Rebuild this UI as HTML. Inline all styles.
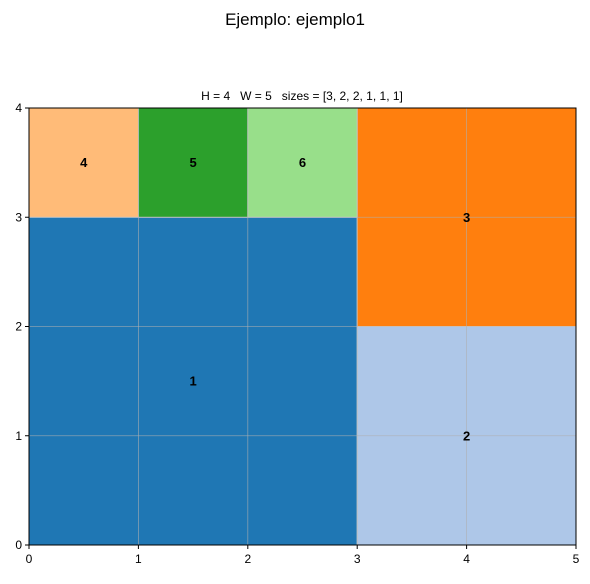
<!DOCTYPE html>
<html><head><meta charset="utf-8"><style>
body{margin:0;background:#fff;font-family:"Liberation Sans","DejaVu Sans",sans-serif;}
</style></head><body>
<svg width="590" height="579" xmlns="http://www.w3.org/2000/svg">
<text x="295" y="25" text-anchor="middle" font-size="17" fill="#000">Ejemplo: ejemplo1</text>
<text x="302" y="100" text-anchor="middle" font-size="12" fill="#000" style="white-space:pre">H = 4   W = 5   sizes = [3, 2, 2, 1, 1, 1]</text>
<g id="plot"></g>
</svg>
<script>
const rectIds=[1,2,3,4,5,6];
const rectX=[0,3,3,0,1,2];
const rectY=[0,0,2,3,3,3];
const rectW=[3,2,2,1,1,1];
const rectH=[3,2,2,1,1,1];
const rectColors=["#1f77b4","#aec7e8","#ff7f0e","#ffbb78","#2ca02c","#98df8a"];
const xTicks=[0,1,2,3,4,5];
const yTicks=[0,1,2,3,4];
const L=29,R=576,T=108,B=545,W=5,H=4;
const sx=v=>L+(R-L)*v/W, sy=v=>B-(B-T)*v/H;
const ns="http://www.w3.org/2000/svg";
const g=document.getElementById('plot');
function mk(t,a){const e=document.createElementNS(ns,t);for(const k in a)e.setAttribute(k,a[k]);g.appendChild(e);return e;}
rectIds.forEach((id,i)=>{
 const r=mk('rect',{x:sx(rectX[i]),y:sy(rectY[i]+rectH[i]),width:sx(rectW[i])-sx(0),height:sy(0)-sy(rectH[i]),fill:rectColors[i],stroke:"#ddd","stroke-width":0.8});
 
 
});
xTicks.forEach(v=>{const l=mk('line',{x1:sx(v),x2:sx(v),y1:T,y2:B,stroke:"#b0b0b0","stroke-width":0.8,opacity:0.7});
 });
yTicks.forEach(v=>{const l=mk('line',{x1:L,x2:R,y1:sy(v),y2:sy(v),stroke:"#b0b0b0","stroke-width":0.8,opacity:0.7});
 });
rectIds.forEach((id,i)=>{
 const t=mk('text',{x:sx(rectX[i]+rectW[i]/2),y:sy(rectY[i]+rectH[i]/2)+4.5,"text-anchor":"middle","font-size":13,"font-weight":"bold"});
 t.textContent=id;
 
});
const fr=mk('rect',{x:L,y:T,width:R-L,height:B-T,fill:"none",stroke:"#000","stroke-width":1});

xTicks.forEach(v=>{mk('line',{x1:sx(v),x2:sx(v),y1:B,y2:B+4,stroke:"#000"});
 const t=mk('text',{x:sx(v),y:B+18,"text-anchor":"middle","font-size":12});t.textContent=v;
 });
yTicks.forEach(v=>{mk('line',{x1:L-4,x2:L,y1:sy(v),y2:sy(v),stroke:"#000"});
 const t=mk('text',{x:L-7,y:sy(v)+4,"text-anchor":"end","font-size":12});t.textContent=v;
 });
</script>
</body></html>
